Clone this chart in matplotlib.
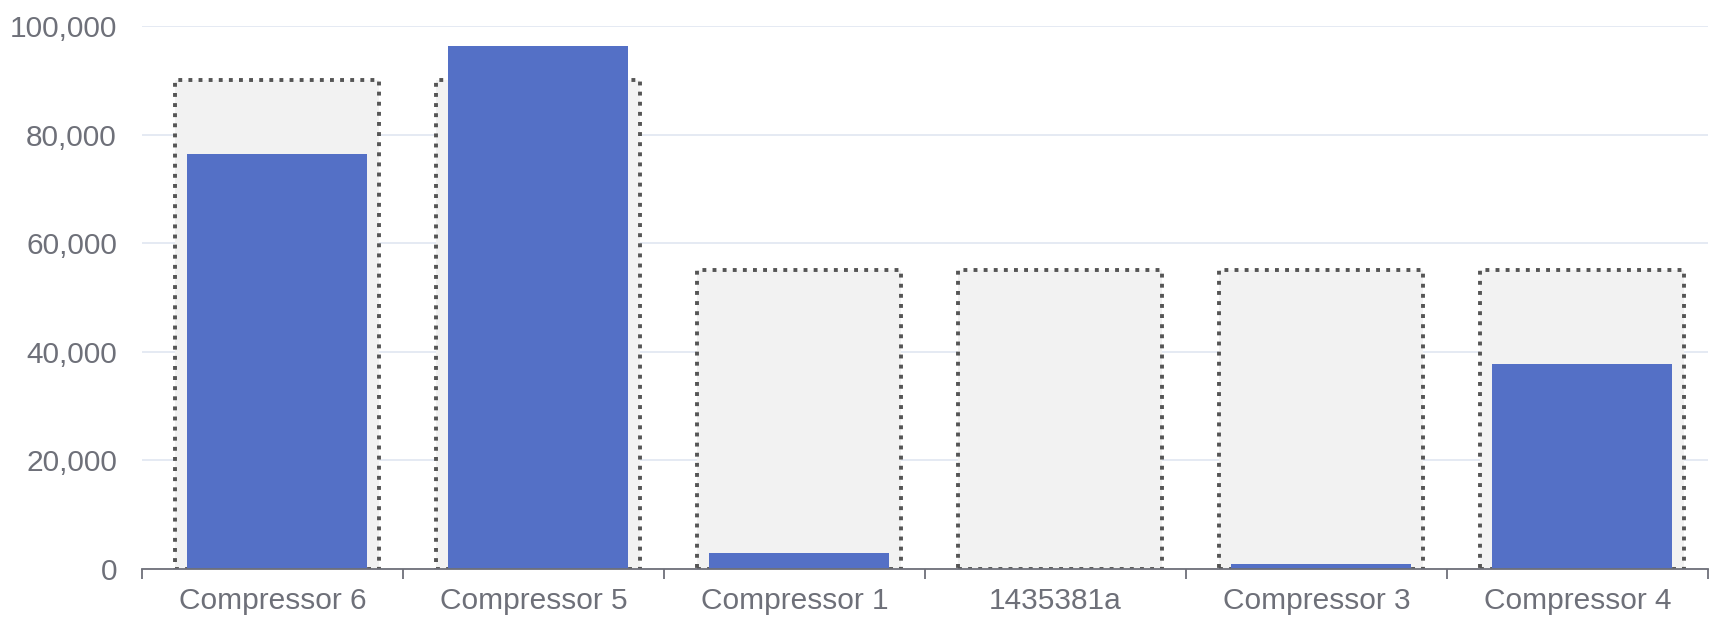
import numpy as np
import matplotlib
matplotlib.use("Agg")
import matplotlib.pyplot as plt

categories = ["Compressor 6", "Compressor 5", "Compressor 1", "1435381a", "Compressor 3", "Compressor 4"]
targets = [90000, 90000, 55000, 55000, 55000, 55000]
values = [76500, 96300, 3000, 0, 1000, 37700]

plt.rcParams['font.family'] = ['Liberation Sans', 'DejaVu Sans']

fig = plt.figure(figsize=(17.17, 6.28), dpi=100)
ax = fig.add_axes([0.0827, 0.094, 0.9121, 0.8646])

x = np.arange(len(categories))
# bars sit a touch right of the category centre in the original
bx = x + 0.017

# grid first so bars sit on top
ax.set_ylim(0, 100000)
ax.set_yticks(np.arange(0, 100001, 20000))
ax.yaxis.grid(True, color="#e0e6f1", linewidth=1.2, zorder=0)
ax.set_axisbelow(True)

ax.bar(bx, targets, width=0.78, color="#f2f2f2", edgecolor="#555555",
       linewidth=2.8, linestyle=(0, (1, 1.6)), zorder=2)
ax.bar(bx, values, width=0.69, color="#5470c6", zorder=3)

ax.set_xlim(-0.5, len(categories) - 0.5)

# ticks on the category boundaries, labels in the middle
ax.set_xticks(np.arange(-0.5, len(categories), 1.0))
ax.set_xticklabels([])
ax.set_xticks(x, minor=True)
ax.set_xticklabels(categories, minor=True)
ax.tick_params(axis="x", which="major", length=7, width=1.3, color="#6e7079", direction="out")
ax.tick_params(axis="x", which="minor", length=0, pad=13, labelsize=21.5, labelcolor="#6e7079")

ax.set_yticklabels(["{:,}".format(v) for v in range(0, 100001, 20000)])
ax.tick_params(axis="y", length=0, pad=18, labelsize=21.5, labelcolor="#6e7079")

for s in ["top", "right", "left"]:
    ax.spines[s].set_visible(False)
ax.spines["bottom"].set_color("#6e7079")
ax.spines["bottom"].set_linewidth(1.3)
ax.spines["bottom"].set_zorder(4)

fig.savefig("out.png", dpi=100)
